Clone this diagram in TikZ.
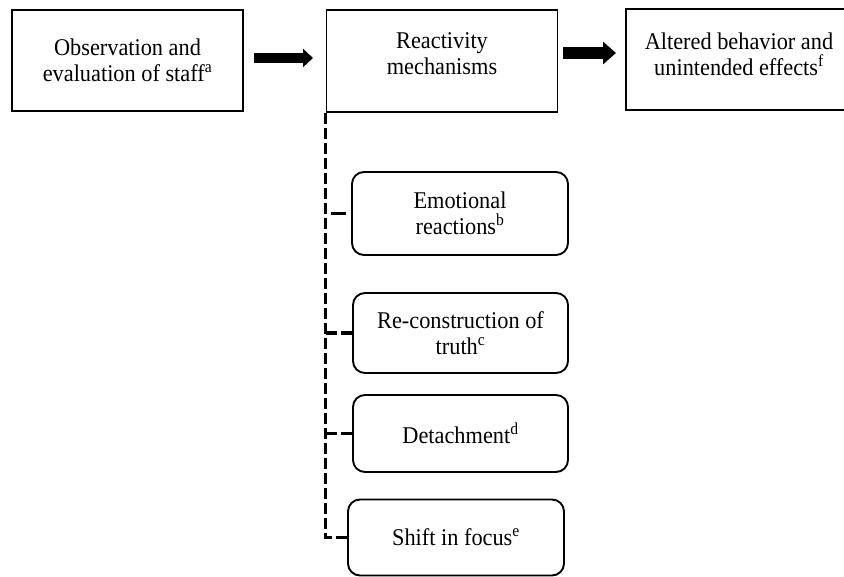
\documentclass[tikz,border=0pt]{standalone}
\usepackage{fontspec}
\setmainfont[FakeStretch=0.93]{Liberation Serif}
\usetikzlibrary{arrows.meta}
\begin{document}
\begin{tikzpicture}[x=1pt,y=-1pt,
  frame/.style={draw, line width=1.9pt, inner sep=0pt},
  rbox/.style={draw, line width=1.9pt, rounded corners=12pt, inner sep=0pt,
    align=center, font=\fontsize{24}{26}\selectfont},
  txt/.style={align=center, inner sep=0pt, font=\fontsize{24}{26}\selectfont},
  dashline/.style={line width=3.3pt, dash pattern=on 11pt off 4pt}]
\useasboundingbox (0,0) rectangle (844,577);
% top row
\node[frame, txt, draw, line width=1.9pt, minimum width=231pt, minimum height=101pt] (obs) at (127.5,60.5)
  {Observation and\\evaluation of staff\textsuperscript{a}};
\node[frame, minimum width=231pt, minimum height=102pt] (react) at (442,61) {};
\node[txt] (reactT) at (442,54) {Reactivity\\mechanisms};
\node[frame, minimum width=222pt, minimum height=101pt] (alt) at (737,59.5) {};
\node[txt] (altT) at (739,54) {Altered behavior and\\unintended effects\textsuperscript{f}};
% block arrows
\coordinate (a1s) at (254,58);
\coordinate (a1e) at (313,58);
\coordinate (a2s) at (563,53);
\coordinate (a2e) at (616,53);
\draw[line width=10pt, -{Triangle[length=10pt,width=18pt]}] (a1s) -- (a1e);
\draw[line width=12pt, -{Triangle[length=13pt,width=22pt]}] (a2s) -- (a2e);
% rounded boxes
\node[rbox, minimum width=216pt, minimum height=83pt] (emo) at (460,213.5)
  {Emotional\\reactions\textsuperscript{b}};
\node[rbox, minimum width=215pt, minimum height=80pt] (rec) at (460.5,333)
  {Re-construction of\\truth\textsuperscript{c}};
\node[rbox, minimum width=215pt, minimum height=77pt] (det) at (460.5,433.5)
  {Detachment\textsuperscript{d}};
\node[rbox, minimum width=216pt, minimum height=76pt] (shf) at (456,537.5)
  {Shift in focus\textsuperscript{e}};
% dashed connectors
\draw[dashline] (react.south west) |- (shf.west);
\draw[dashline, dash pattern=on 0pt off 5pt on 15pt off 30pt] (emo.west) -- (emo.west -| react.south west);
\draw[dashline] (rec.west) -- (rec.west -| react.south west);
\draw[dashline] (det.west) -- (det.west -| react.south west);
\end{tikzpicture}
\end{document}
